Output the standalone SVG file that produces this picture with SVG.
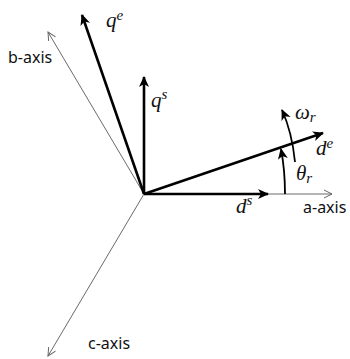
<svg xmlns="http://www.w3.org/2000/svg" width="350" height="359" viewBox="0 0 350 359">
<defs>
<marker id="thin" viewBox="0 0 10 10" refX="9" refY="5" markerWidth="10" markerHeight="10" markerUnits="userSpaceOnUse" orient="auto">
<path d="M1,1 L9,5 L1,9" fill="none" stroke="#666" stroke-width="1"/>
</marker>
<marker id="thick" viewBox="0 0 12 12" refX="10" refY="6" markerWidth="12" markerHeight="12" markerUnits="userSpaceOnUse" orient="auto">
<path d="M0,1 L11,6 L0,11 L3,6 Z" fill="#000"/>
</marker>
</defs>
<style>
.ax{stroke:#6a6a6a;stroke-width:1;fill:none;marker-end:url(#thin)}
.vec{stroke:#000;stroke-width:2.6;fill:none;marker-end:url(#thick)}
.arc{stroke:#000;stroke-width:1.8;fill:none;marker-end:url(#thick)}
.lbl{font-family:"Noto Sans","Liberation Sans",sans-serif;font-size:16px;fill:#111}
.m{font-family:"Liberation Serif","DejaVu Serif",serif;font-style:italic;font-size:21px;fill:#111}
.sup{font-size:15px}
</style>
<g id="connectors">
<line class="ax" x1="144" y1="194" x2="48" y2="32"/>
<line class="ax" x1="144" y1="194" x2="48" y2="356"/>
<line class="ax" x1="144" y1="194" x2="332" y2="194"/>
<line class="vec" x1="144" y1="194" x2="82" y2="15"/>
<line class="vec" x1="144" y1="194" x2="144" y2="77"/>
<line class="vec" x1="144" y1="194" x2="268" y2="194"/>
<line class="vec" x1="144" y1="194" x2="323" y2="133"/>
<path class="arc" d="M285,194 Q285,170 281,149"/>
<path class="arc" d="M295,162 Q292,132 282,110"/>
</g>
<g id="b-axis"><text class="lbl" x="8" y="63">b-axis</text></g>
<g id="c-axis"><text class="lbl" x="88" y="349">c-axis</text></g>
<g id="a-axis"><text class="lbl" x="303" y="213">a-axis</text></g>
<g id="qe"><text class="m" x="106" y="27">q<tspan class="sup" dy="-7">e</tspan></text></g>
<g id="qs"><text class="m" x="151" y="107">q<tspan class="sup" dy="-8">s</tspan></text></g>
<g id="ds"><text class="m" x="236" y="213">d<tspan class="sup" dy="-8">s</tspan></text></g>
<g id="de"><text class="m" x="316" y="155">d<tspan class="sup" dy="-7">e</tspan></text></g>
<g id="theta"><text class="m" x="296" y="180">θ<tspan class="sup" dy="3">r</tspan></text></g>
<g id="omega"><text class="m" x="295" y="119">ω<tspan class="sup" dy="3">r</tspan></text></g>
</svg>
